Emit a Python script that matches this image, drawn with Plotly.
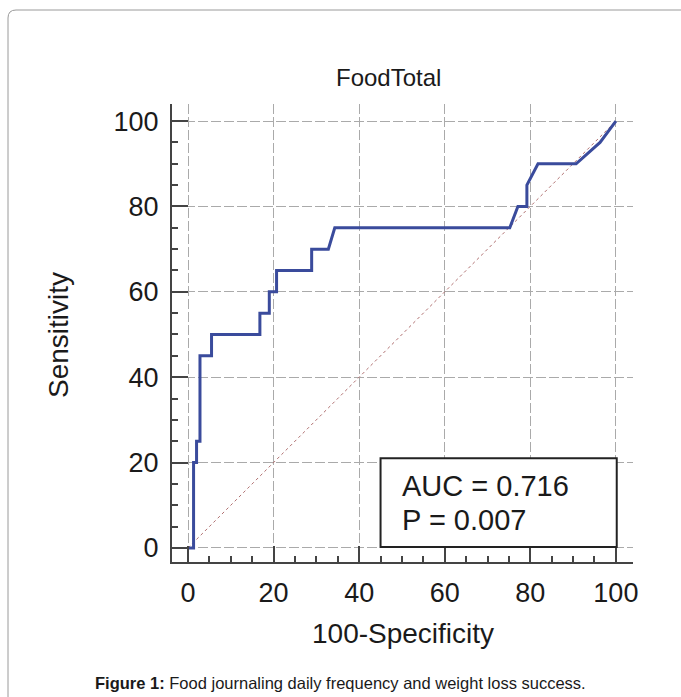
import plotly.graph_objects as go

# ROC curve points
fpr = [0, 1.3, 1.3, 2.0, 2.0, 2.8, 2.8, 5.5, 5.5, 16.8, 16.8, 19.0, 19.0, 20.7, 20.7,
       28.9, 28.9, 32.8, 34.3, 75.2, 77.1, 79.2, 79.2, 81.8, 90.7, 96.3, 100]
tpr = [0, 0, 20, 20, 25, 25, 45, 45, 50, 50, 55, 55, 60, 60, 65,
       65, 70, 70, 75, 75, 80, 80, 85, 90, 90, 95, 100]
diag_x = [0, 100]
diag_y = [0, 100]
tick_vals = [0, 20, 40, 60, 80, 100]
auc_text = "AUC = 0.716"
p_text = "P = 0.007"
title_text = "FoodTotal"
x_title = "100-Specificity"
y_title = "Sensitivity"
caption = "<b>Figure 1:</b> Food journaling daily frequency and weight loss success."

W, H = 681, 697
L, R, T, B = 172, 633, 104, 562  # plot area in pixels

def px(xp):
    return (xp - L) / (R - L)

def py(yp):
    return (B - yp) / (B - T)

FONT = "Liberation Sans, Arial, sans-serif"

fig = go.Figure()
fig.add_trace(go.Scatter(x=diag_x, y=diag_y, mode="lines",
                         line=dict(color="#b07070", width=1, dash="dot"),
                         hoverinfo="skip", showlegend=False))
fig.add_trace(go.Scatter(x=fpr, y=tpr, mode="lines",
                         line=dict(color="#3a4b9c", width=3),
                         showlegend=False))

axis_common = dict(
    showline=True, linecolor="#444", linewidth=2, mirror=False,
    ticks="inside", ticklen=16, tickwidth=2, tickcolor="#444",
    tickvals=tick_vals, showgrid=True, gridcolor="#aaaaaa", gridwidth=1,
    griddash="10px,3px", zeroline=False,
    tickfont=dict(family=FONT, size=27, color="#1a1a1a"),
    minor=dict(dtick=5, tick0=0, ticks="inside", ticklen=6, tickwidth=1.5,
               tickcolor="#444", showgrid=False),
)

fig.update_xaxes(range=[-3.74, 104.0], ticklabelstandoff=6, **axis_common)
fig.update_yaxes(range=[-3.3, 104.0], ticklabelstandoff=6, **axis_common)

# outer frame with rounded top-left corner
x0, y0 = px(8), py(10)
rx, ry = 8 / (R - L), 8 / (B - T)
xr, yb = px(700), py(720)
path = (f"M {x0},{yb} L {x0},{y0 - ry} Q {x0},{y0} {x0 + rx},{y0} L {xr},{y0}")
shapes = [
    dict(type="path", xref="paper", yref="paper", path=path,
         line=dict(color="#9a9a9a", width=1), layer="below"),
    dict(type="rect", xref="x", yref="y", x0=45, x1=100.2, y0=0.2, y1=21,
         fillcolor="white", line=dict(color="#222", width=2), layer="above"),
]

annotations = [
    dict(text=title_text, xref="paper", yref="paper", x=px(388), y=py(78),
         xanchor="center", yanchor="middle", showarrow=False,
         font=dict(family=FONT, size=24, color="#1a1a1a")),
    dict(text=x_title, xref="paper", yref="paper", x=px(403), y=py(633),
         xanchor="center", yanchor="middle", showarrow=False,
         font=dict(family=FONT, size=28, color="#1a1a1a")),
    dict(text=y_title, xref="paper", yref="paper", x=px(58), y=py(335),
         xanchor="center", yanchor="middle", showarrow=False, textangle=-90,
         font=dict(family=FONT, size=28, color="#1a1a1a")),
    dict(text=auc_text, xref="x", yref="y", x=49.5, y=14.5,
         xanchor="left", yanchor="middle", showarrow=False,
         font=dict(family=FONT, size=29, color="#1a1a1a")),
    dict(text=p_text, xref="x", yref="y", x=49.5, y=6.5,
         xanchor="left", yanchor="middle", showarrow=False,
         font=dict(family=FONT, size=29, color="#1a1a1a")),
    dict(text=caption, xref="paper", yref="paper", x=px(340), y=py(683),
         xanchor="center", yanchor="middle", showarrow=False,
         font=dict(family=FONT, size=16.5, color="#1a1a1a")),
]

fig.update_layout(
    width=W, height=H,
    margin=dict(l=L, r=W - R, t=T, b=H - B, pad=0),
    paper_bgcolor="white", plot_bgcolor="white",
    shapes=shapes, annotations=annotations,
    font=dict(family=FONT),
)

fig.write_html("out.html",
               config={"displayModeBar": False},
               post_script="document.body.style.margin='0';"
                           "document.body.style.padding='0';")
